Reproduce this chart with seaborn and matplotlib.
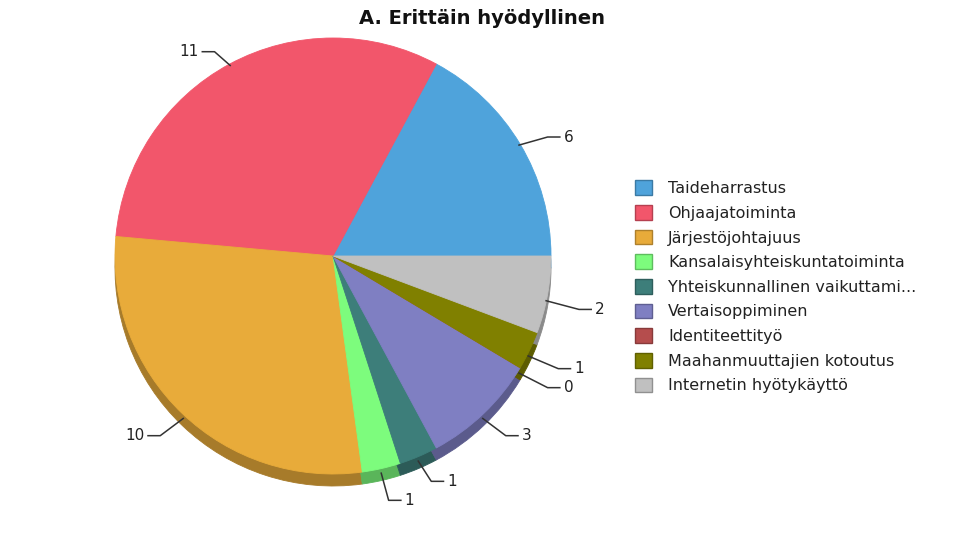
import matplotlib.pyplot as plt
import matplotlib.colors as mcolors
from matplotlib.patches import Patch
import numpy as np
import seaborn as sns

sns.set_style("white")
plt.rcParams['font.family'] = ['DejaVu Sans']

# Data
categories = ['Taideharrastus', 'Ohjaajatoiminta', 'Järjestöjohtajuus',
              'Kansalaisyhteiskuntatoiminta', 'Yhteiskunnallinen vaikuttami...',
              'Vertaisoppiminen', 'Identiteettityö', 'Maahanmuuttajien kotoutus',
              'Internetin hyötykäyttö']
values = [6, 11, 10, 1, 1, 3, 0, 1, 2]
colors = ['#4fa3db', '#f2566b', '#e8ab3a', '#7dfc7d', '#3d7e7a',
          '#7f7fc2', '#b54d4d', '#808000', '#c0c0c0']

fig = plt.figure(figsize=(9.6, 5.4), dpi=100)
ax = fig.add_axes([0, 0, 1, 1])

cx, cy, r, depth = 333, 284, 218, 12

# 3D rim: darker copy of the pie a little lower
dark = [tuple(c * 0.72 for c in mcolors.to_rgb(col)) for col in colors]
for cols, yc in [(dark, cy - depth), (colors, cy)]:
    wedges, _ = ax.pie(values, colors=cols, startangle=0, counterclock=True,
                       center=(cx, yc), radius=r, frame=True)
    for w in wedges:
        w.set_edgecolor(w.get_facecolor())
        w.set_linewidth(0.6)
ax.set_xlim(0, 960)
ax.set_ylim(0, 540)
ax.set_aspect('equal')
ax.axis('off')

# Value labels with leader lines
total = sum(values)
cum = np.cumsum([0] + values)
xr, yr = 250, 232
labs = []
for i, v in enumerate(values):
    ang = np.deg2rad((cum[i] + v / 2) / total * 360)
    ca, sa = np.cos(ang), np.sin(ang)
    off = -depth if sa < 0 else 0
    x0, y0 = cx + r * 0.99 * ca, cy + r * 0.99 * sa + off * 0.5
    x1, y1 = cx + xr * ca, cy + yr * sa + off
    labs.append([x0, y0, x1, y1, ca, str(v)])

# keep right-side labels apart
right = sorted([l for l in labs if l[4] >= 0], key=lambda l: -l[3])
for a, b in zip(right, right[1:]):
    if a[3] - b[3] < 19:
        b[3] = a[3] - 19

for x0, y0, x1, y1, ca, t in labs:
    side = 1 if ca >= 0 else -1
    x2 = x1 + side * 13
    ax.plot([x0, x1, x2], [y0, y1, y1], color='#333333', lw=1.1,
            solid_capstyle='butt')
    ax.text(x2 + side * 3, y1, t, ha='left' if side > 0 else 'right',
            va='center', fontsize=11, color='#222222')

ax.text(482, 521, 'A. Erittäin hyödyllinen', ha='center', va='center',
        fontsize=14, fontweight='bold', color='#111111')

handles = [Patch(facecolor=c, edgecolor=mcolors.to_hex([x * 0.75 for x in mcolors.to_rgb(c)]), lw=1)
           for c in colors]
fig.legend(handles, categories, loc='upper left', bbox_to_anchor=(621 / 960, 1 - 166 / 540),
           frameon=False, fontsize=11.5, labelspacing=0.55, handlelength=1.05,
           handleheight=1.05, handletextpad=1.0, labelcolor='#222222')

fig.savefig('out.png', dpi=100)
